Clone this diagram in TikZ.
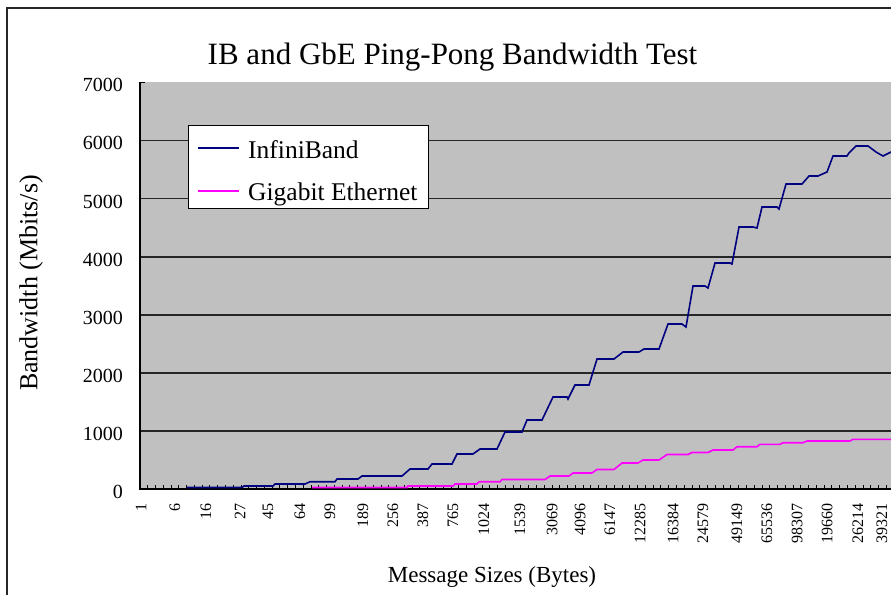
\documentclass[tikz,border=0pt]{standalone}
\usepackage{fontspec}
\setmainfont{Liberation Serif}
\definecolor{plotgray}{HTML}{C0C0C0}
\definecolor{ibblue}{HTML}{000080}
\definecolor{gbepink}{HTML}{FF00FF}
\tikzset{
  gridln/.style={line width=1.8pt, black!85},
  axisln/.style={line width=1.5pt, black},
  tickln/.style={line width=1pt, black},
  ibline/.style={line width=1.6pt, ibblue},
  gbeline/.style={line width=1.6pt, gbepink},
  ylabelstyle/.style={anchor=east, inner sep=0pt, font=\fontsize{20}{20}\selectfont},
  xlabelstyle/.style={anchor=east, rotate=90, inner sep=0pt, font=\fontsize{16}{16}\selectfont},
  legtext/.style={anchor=base west, inner sep=0pt, font=\fontsize{25.5}{25.5}\selectfont},
  frameln/.style={line width=1.5pt, black!85}
}
\begin{document}
\begin{tikzpicture}[x=1pt, y=-1pt]
\useasboundingbox (0,0) rectangle (891,595);
\clip (0,0) rectangle (891,595);
\fill[white] (0,0) rectangle (891,595);
% outer chart frame
\draw[frameln] (7,595) -- (7,8) -- (891,8);
% plot area
\fill[plotgray] (140,82.3) rectangle (891,489);
\foreach \v in {1,...,6} \draw[gridln] (140,{489-58.1*\v}) -- (891,{489-58.1*\v});
\draw[axisln] (140,82.3) -- (140,489) -- (891,489);
\draw[tickln] (140,82.3) -- (145,82.3);
\foreach \j in {0,...,96} \draw[tickln] ({140+7.775*\j},489) -- ++(0,-4);
% y tick labels
\foreach \v/\t in {0/0,1/1000,2/2000,3/3000,4/4000,5/5000,6/6000,7/7000}
  \node[ylabelstyle] (yl\v) at (123,{489-58.1*\v+3}) {\t};
% x tick labels
\foreach \x/\t [count=\i] in {141/1,175/6,206/16,240/27,268/45,300/64,330/99,363/189,393/256,423/387,453/765,484/1024,520/1539,552/3069,580/4096,610/6147,640/12285,673/16384,703/24579,737/49149,767/65536,797/98307,827/19660,858/26214,882/39321}
  \node[xlabelstyle] (xl\i) at (\x,503) {\t};
% data: Gigabit Ethernet
\draw[gbeline] (312,487.5) -- (407,487.5) -- (408,486) -- (453,486) -- (455,484) -- (477,484) -- (479,481.7) -- (500,481.7) -- (502,479.5) -- (545,479.5) -- (550,476) -- (569,476) -- (573,473) -- (592,473) -- (597,469.5) -- (614,469.5) -- (622,463) -- (638,463) -- (643,460) -- (659,460) -- (667,454.5) -- (688,454.5) -- (692,452.5) -- (708,452.5) -- (713,450) -- (733,450) -- (737,446.7) -- (757,446.7) -- (760,444.3) -- (780,444.3) -- (783,442.7) -- (803,442.7) -- (807,441) -- (850,441) -- (853,439.3) -- (891,439.3);
% data: InfiniBand
\draw[ibline] (187,487.5) -- (242,487.5) -- (244,486) -- (273,486) -- (275,484) -- (305,484) -- (310,481.7) -- (335,481.7) -- (337,479) -- (358,479) -- (362,476) -- (402,476) -- (410,469) -- (428,469) -- (432,464) -- (452,464) -- (457,454) -- (473,454) -- (480,449) -- (497,449) -- (505,432) -- (522,432) -- (527,420) -- (542,420) -- (553,397) -- (567,397) -- (568,399) -- (575,385) -- (589,385) -- (597,359) -- (614,359) -- (623,352) -- (639,352) -- (644,349) -- (659,349) -- (668,324) -- (682,324) -- (686,327) -- (693,286) -- (705,286) -- (708,288) -- (715,263) -- (730,263) -- (732,264) -- (739,227) -- (753,227) -- (757,228) -- (762,207) -- (777,207) -- (779,209) -- (786,184) -- (802,184) -- (809,176) -- (818,176) -- (827,172) -- (833,156) -- (847,156) -- (849,153) -- (856,146) -- (868,146) -- (876,152) -- (883,156) -- (891,152);
% legend
\node[draw=black, line width=1.3pt, fill=white, anchor=north west, inner sep=0pt, minimum width=240pt, minimum height=83pt] (legend) at (188,125) {};
\coordinate (ibA) at (198,148);
\coordinate (ibB) at (239,148);
\coordinate (geA) at (198,191);
\coordinate (geB) at (239,191);
\draw[ibline] (ibA) -- (ibB);
\draw[gbeline] (geA) -- (geB);
\node[legtext] (ibtxt) at (248,158) {InfiniBand};
\node[legtext] (getxt) at (248,200) {Gigabit Ethernet};
% titles
\node[anchor=base, inner sep=0pt, font=\fontsize{31}{31}\selectfont] (title) at (452.5,64) {IB and GbE Ping-Pong Bandwidth Test};
\node[rotate=90, inner sep=0pt, font=\fontsize{26}{26}\selectfont] (ytitle) at (31,283) {Bandwidth (Mbits/s)};
\node[anchor=base, inner sep=0pt, font=\fontsize{23}{23}\selectfont] (xtitle) at (492,582) {Message Sizes (Bytes)};
\end{tikzpicture}
\end{document}
